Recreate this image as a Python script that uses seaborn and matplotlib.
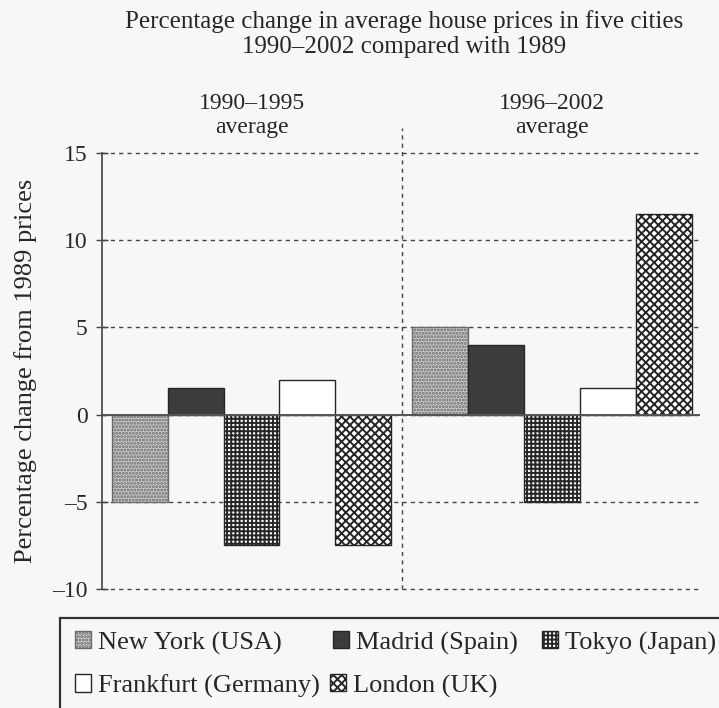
import numpy as np
import pandas as pd
import seaborn as sns
import matplotlib.pyplot as plt
from matplotlib.patches import Rectangle

periods = ["1990–1995\naverage", "1996–2002\naverage"]
cities = ["New York (USA)", "Madrid (Spain)", "Tokyo (Japan)",
          "Frankfurt (Germany)", "London (UK)"]
new_york = [-5.0, 5.0]
madrid = [1.5, 4.0]
tokyo = [-7.5, -5.0]
frankfurt = [2.0, 1.5]
london = [-7.5, 11.5]
yticks = [-10, -5, 0, 5, 10, 15]

values = {cities[0]: new_york, cities[1]: madrid, cities[2]: tokyo,
          cities[3]: frankfurt, cities[4]: london}
rows = []
for c in cities:
    for p, v in zip(periods, values[c]):
        rows.append({"period": p, "city": c, "change": v})
df = pd.DataFrame(rows)

sns.set_theme(style="white")
plt.rcParams['font.family'] = ['Liberation Serif', 'DejaVu Serif']
plt.rcParams['hatch.linewidth'] = 1.4

ink = '#262626'
fig = plt.figure(figsize=(7.19, 7.08), dpi=100, facecolor='#f7f7f7')
ax = fig.add_axes([0.1419, 0.168, 0.8317, 0.6161])
ax.set_facecolor('none')

face = {cities[0]: '#c8c8c8', cities[1]: '#3c3c3c', cities[2]: 'white',
        cities[3]: 'white', cities[4]: 'white'}
sns.barplot(data=df, x="period", y="change", hue="city", order=periods,
            hue_order=cities, palette=face, saturation=1, width=0.93,
            errorbar=None, edgecolor=ink, linewidth=1.0, legend=False, ax=ax)

hatches = ['.....', '', '++++', '', 'xxxx']
edges = ['#6a6a6a', ink, ink, ink, ink]
for cont, h, e in zip(ax.containers, hatches, edges):
    for bar in cont.patches:
        bar.set_hatch(h)
        bar.set_edgecolor(e)

ax.set_xlim(-0.4975, 1.4925)
ax.set_ylim(-10, 15)
ax.set_yticks(yticks)
ax.set_yticklabels([str(t).replace('-', '–') for t in yticks])
ax.set_xlabel('')
ax.set_ylabel('')

ax.set_axisbelow(True)
ax.yaxis.grid(True, linestyle=(0, (3, 3)), color='#444444', linewidth=1.0)
ax.xaxis.grid(False)
for gl in ax.get_ygridlines():
    gl.set_clip_on(False)
ax.axhline(0, color='#555555', linewidth=1.4, zorder=1)
ax.axvline(0.5, ymin=0, ymax=1.057, clip_on=False, linestyle=(0, (3, 3)),
           color='#444444', linewidth=1.0)

sns.despine(ax=ax, top=True, right=True, bottom=True)
ax.spines['left'].set_color('#444444')
ax.spines['left'].set_linewidth(1.2)

ax.tick_params(axis='y', direction='inout', length=9, width=1.0, pad=6,
               labelsize=17, colors='#444444', labelcolor=ink, left=True)
ax.xaxis.tick_top()
ax.tick_params(axis='x', length=0, pad=11, labelsize=17, labelcolor=ink)
for lbl in ax.get_xticklabels():
    lbl.set_multialignment('center')
    lbl.set_linespacing(1.15)

fig.text(404 / 719, 1 - 34 / 708,
         "Percentage change in average house prices in five cities\n"
         "1990–2002 compared with 1989",
         ha='center', va='center', fontsize=18, color=ink, linespacing=1.15)
fig.text(26 / 719, 1 - 371 / 708, "Percentage change from 1989 prices",
         rotation=90, ha='center', va='center', fontsize=19, color=ink)

# legend frame
fig.add_artist(Rectangle((60 / 719, -0.05), 1.0, 0.05 + 1 - 618 / 708,
                         transform=fig.transFigure, fill=False,
                         edgecolor='#333333', linewidth=1.6))

handles = [cont.patches[0] for cont in ax.containers]
pos = [(75, 643), (333, 643), (542, 643), (75, 686), (330, 686)]
for h, lab, (px, py) in zip(handles, cities, pos):
    fig.legend([h], [lab], loc='center left',
               bbox_to_anchor=(px / 719, 1 - py / 708), frameon=False,
               borderpad=0, borderaxespad=0, handlelength=0.62,
               handleheight=0.62, handletextpad=0.25, fontsize=19,
               labelcolor=ink)

fig.savefig("out.png", dpi=100, facecolor=fig.get_facecolor())
